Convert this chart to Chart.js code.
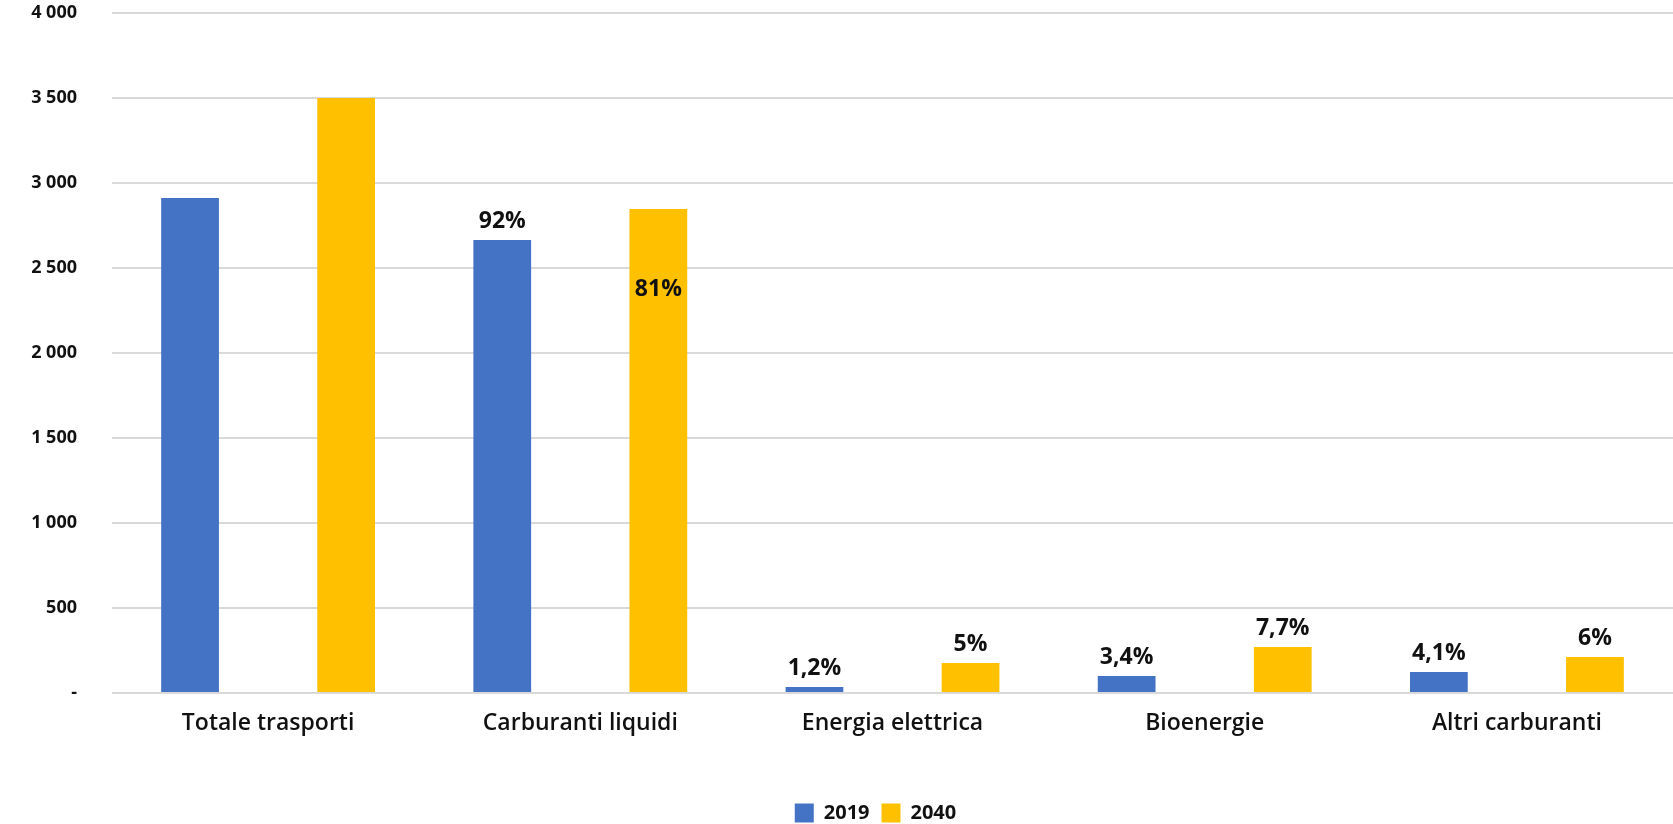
<!DOCTYPE html>
<html>
<head>
<meta charset="utf-8">
<script src="https://cdn.jsdelivr.net/npm/chart.js@4"></script>
<style>
  html, body { margin: 0; padding: 0; background: #fff; }
  #wrap { width: 1673px; height: 824px; }
</style>
</head>
<body>
<div id="wrap"><canvas id="chart" width="1673" height="824"></canvas></div>
<script>
const categories = ['Totale trasporti', 'Carburanti liquidi', 'Energia elettrica', 'Bioenergie', 'Altri carburanti'];
const values2019 = [2912, 2665, 35, 100, 124];
const values2040 = [3500, 2847, 176, 270, 212];
const labels2019 = ['', '92%', '1,2%', '3,4%', '4,1%'];
const labels2040 = ['', '81%', '5%', '7,7%', '6%'];
const yTicks = [0, 500, 1000, 1500, 2000, 2500, 3000, 3500, 4000];

const FONT = '"Open Sans", "DejaVu Sans", sans-serif';

// draws the percentage labels over the bars
const barLabels = {
    id: 'barLabels',
    afterDatasetsDraw(chart) {
        const ctx = chart.ctx;
        ctx.save();
        ctx.font = 'bold 23px ' + FONT;
        ctx.fillStyle = '#111';
        ctx.textAlign = 'center';
        chart.data.datasets.forEach((ds, i) => {
            const meta = chart.getDatasetMeta(i);
            meta.data.forEach((bar, j) => {
                const txt = ds.pctLabels[j];
                if (!txt) return;
                if (ds.inside && ds.inside[j]) {
                    ctx.textBaseline = 'middle';
                    ctx.fillText(txt, bar.x, bar.y + 80);
                } else {
                    ctx.textBaseline = 'alphabetic';
                    ctx.fillText(txt, bar.x, bar.y - 12);
                }
            });
        });
        ctx.restore();
    }
};

// nudge legend right and down like the original
const legendShift = {
    id: 'legendShift',
    afterLayout(chart) {
        const lg = chart.legend;
        lg.left += 39;
        lg.right += 39;
        lg.top += 9;
        lg.bottom += 9;
    }
};

new Chart(document.getElementById('chart').getContext('2d'), {
    type: 'bar',
    data: {
        labels: categories,
        datasets: [{
            label: '2019',
            data: values2019,
            pctLabels: labels2019,
            backgroundColor: '#4472C4'
        }, {
            label: '2040',
            data: values2040,
            pctLabels: labels2040,
            inside: [false, true, false, false, false],
            backgroundColor: '#FFC000'
        }]
    },
    options: {
        responsive: false,
        animation: false,
        datasets: {
            bar: { categoryPercentage: 1.0, barPercentage: 0.37 }
        },
        layout: { padding: { top: 13, right: 0, left: 0, bottom: 0 } },
        plugins: {
            legend: {
                position: 'bottom',
                labels: {
                    boxWidth: 19,
                    boxHeight: 19,
                    padding: 12,
                    color: '#111',
                    font: { family: FONT, size: 20, weight: 'bold' }
                }
            },
            tooltip: { enabled: false }
        },
        scales: {
            x: {
                grid: { display: false, drawTicks: false },
                border: { display: false },
                ticks: {
                    padding: 17,
                    color: '#111',
                    font: { family: FONT, size: 23, weight: '600' }
                },
                afterFit(axis) { axis.height = 89; }
            },
            y: {
                min: 0,
                max: 4000,
                afterBuildTicks(axis) { axis.ticks = yTicks.map(v => ({ value: v })); },
                grid: { color: '#d9d9d9', lineWidth: 2, drawTicks: false },
                border: { display: false },
                ticks: {
                    padding: 35,
                    color: '#111',
                    font: { family: FONT, size: 18, weight: 'bold' },
                    callback: v => v === 0 ? '-' : v.toString().replace(/\B(?=(\d{3})+(?!\d))/g, ' ')
                },
                afterFit(axis) {
                    axis.width = 112;
                    axis.paddingTop = 0;
                    axis.paddingBottom = 0;
                }
            }
        }
    },
    plugins: [barLabels, legendShift]
});
</script>
</body>
</html>
